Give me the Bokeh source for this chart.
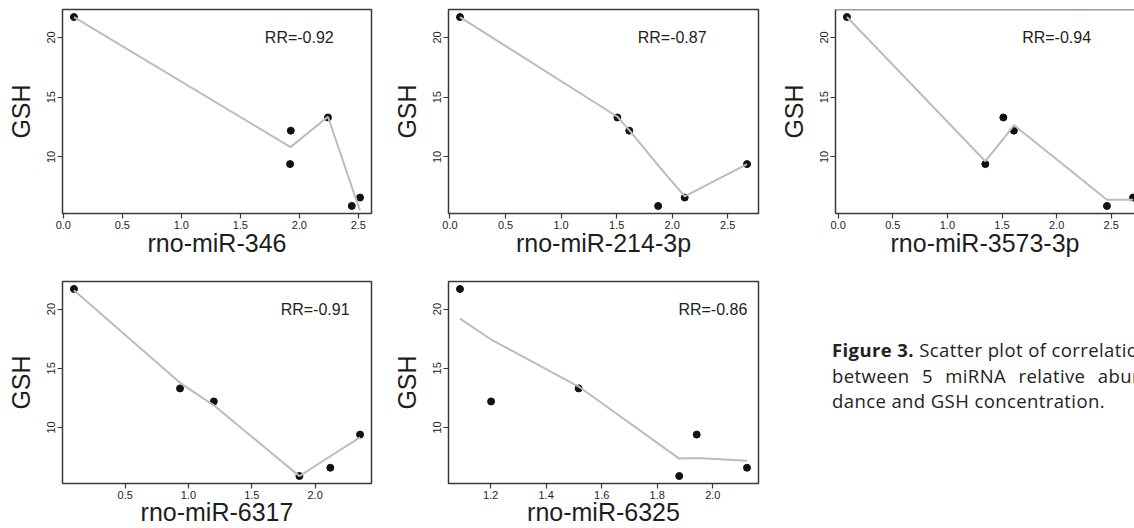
import math
from bokeh.plotting import figure
from bokeh.layouts import row, column
from bokeh.models import Label, Span, FixedTicker, PrintfTickFormatter, Div
from bokeh.embed import file_html
from bokeh.resources import INLINE

# ---- data ----
gsh = [21.7, 13.3, 12.2, 9.4, 6.6, 5.9]

mir346 = [0.09, 2.243, 1.928, 1.922, 2.515, 2.445]
mir214 = [0.09, 1.507, 1.614, 2.674, 2.113, 1.874]
mir3573 = [0.08, 1.512, 1.609, 1.347, 2.70, 2.461]
mir6317 = [0.095, 0.933, 1.20, 2.355, 2.12, 1.876]
mir6325 = [1.09, 1.517, 1.202, 1.942, 2.123, 1.879]

# smoothed curve values (same sample order)
fit346 = [21.7, 13.36, 10.84, 10.84, 5.52, 7.5]
fit214 = [21.7, 13.36, 12.24, 9.39, 6.7, 9.3]
fit3573 = [21.7, 11.5, 12.66, 9.64, 6.42, 6.42]
fit6317 = [21.6, 13.77, 11.87, 9.16, 7.57, 5.89]
fit6325 = [19.19, 13.46, 17.43, 7.43, 7.18, 7.37]

names = ["rno-miR-346", "rno-miR-214-3p", "rno-miR-3573-3p", "rno-miR-6317", "rno-miR-6325"]
rr_labels = ["RR=-0.92", "RR=-0.87", "RR=-0.94", "RR=-0.91", "RR=-0.86"]
xticks_a = [0.0, 0.5, 1.0, 1.5, 2.0, 2.5]
xticks_b = [0.5, 1.0, 1.5, 2.0]
xticks_c = [1.2, 1.4, 1.6, 1.8, 2.0]
yticks = [10, 15, 20]
rr_pos = (2.0, 20.0)

FONT = "Liberation Sans"
TXT = "#1e1e1e"
FRAME = "#3a3a3a"


def panel(xs, fit, xlabel, rr, ticks, W, H, bl, bt, bb, br,
          nominal_fw=None, xlab_standoff=-3):
    xmin, xmax = min(xs), max(xs)
    pad = 0.04 * (xmax - xmin)
    x0, x1 = xmin - pad, xmax + pad
    ymin, ymax = min(gsh), max(gsh)
    ypad = 0.04 * (ymax - ymin)
    y0, y1 = ymin - ypad, ymax + ypad
    fw = W - bl - br
    truncated = nominal_fw is not None
    x1_vis = x0 + (x1 - x0) * fw / nominal_fw if truncated else x1
    p = figure(width=W, height=H, x_range=(x0, x1_vis), y_range=(y0, y1),
               output_backend="svg", toolbar_location=None, title=None,
               min_border_left=bl, min_border_right=br,
               min_border_top=bt, min_border_bottom=bb)
    p.background_fill_color = "white"
    p.border_fill_color = "white"
    p.grid.visible = False
    if truncated:
        p.outline_line_color = None
        for ax in (p.xaxis, p.yaxis):
            ax.axis_line_color = FRAME
            ax.axis_line_width = 1.5
        p.add_layout(Span(location=y1, dimension="width", line_color=FRAME, line_width=1.5))
    else:
        p.outline_line_color = FRAME
        p.outline_line_width = 1.5
        p.outline_line_alpha = 1.0
        p.xaxis.axis_line_color = None
        p.yaxis.axis_line_color = None
    for ax in (p.xaxis, p.yaxis):
        ax.major_tick_out = 5
        ax.major_tick_in = 0
        ax.minor_tick_line_color = None
        ax.major_tick_line_color = FRAME
        ax.major_tick_line_width = 1.2
        ax.major_label_text_font = FONT
        ax.major_label_text_font_size = "11px"
        ax.major_label_text_color = TXT
        ax.major_label_standoff = 2
        ax.axis_label_text_font = FONT
        ax.axis_label_text_font_size = "25px"
        ax.axis_label_text_font_style = "normal"
        ax.axis_label_text_color = TXT
    p.xaxis.ticker = FixedTicker(ticks=ticks)
    p.xaxis.formatter = PrintfTickFormatter(format="%.1f")
    p.yaxis.ticker = FixedTicker(ticks=yticks)
    p.yaxis.formatter = PrintfTickFormatter(format="%d")
    p.yaxis.major_label_orientation = "vertical"
    p.xaxis.axis_label = xlabel
    p.xaxis.axis_label_standoff = xlab_standoff
    p.yaxis.axis_label = "GSH"
    p.yaxis.axis_label_standoff = 10

    p.scatter(xs, gsh, size=7, color="#111111")
    pairs = sorted(zip(xs, fit))
    p.line([a for a, _ in pairs], [b for _, b in pairs], line_color="#bcbcbc", line_width=2)

    p.add_layout(Label(x=rr_pos[0], y=rr_pos[1], text=rr, text_align="center",
                       text_baseline="middle", text_font=FONT, text_font_size="16px",
                       text_color=TXT))
    return p


H1, H2 = 266, 262
W1, W2 = 388, 387
W3 = 1134 - W1 - W2
f1 = panel(mir346, fit346, names[0], rr_labels[0], xticks_a, W1, H1, 62, 9, 53, 17)
f2 = panel(mir214, fit214, names[1], rr_labels[1], xticks_a, W2, H1, 60, 9, 53, 17)
f3 = panel(mir3573, fit3573, names[2], rr_labels[2], xticks_a, W3, H1, 60, 9, 53, 0,
           nominal_fw=309)
f4 = panel(mir6317, fit6317, names[3], rr_labels[3], xticks_b, W1, H2, 62, 15, 44, 17,
           xlab_standoff=-4)
f5 = panel(mir6325, fit6325, names[4], rr_labels[4], xticks_c, W2, H2, 60, 15, 44, 17,
           xlab_standoff=-4)

cap_style = ("font-family:'Open Sans';font-size:18.5px;letter-spacing:0.4px;color:#222;"
             "line-height:25.5px;white-space:nowrap;")
caption = (
    '<div style="width:%dpx;height:%dpx;overflow:hidden;position:relative;">' % (W3, H2) +
    '<div style="position:absolute;left:52px;top:66px;width:318px;' + cap_style + '">'
    '<div style="text-align:justify;text-align-last:justify;"><b>Figure 3.</b> Scatter plot of correlation</div>'
    '<div style="text-align:justify;text-align-last:justify;">between 5 miRNA relative abun-</div>'
    '<div style="text-align:left;">dance and GSH concentration.</div>'
    '</div></div>'
)
div = Div(text=caption, width=W3, height=H2, styles={"overflow": "hidden"})

layout = column(row(f1, f2, f3), row(f4, f5, div))
open("out.html", "w").write(file_html(layout, INLINE))
